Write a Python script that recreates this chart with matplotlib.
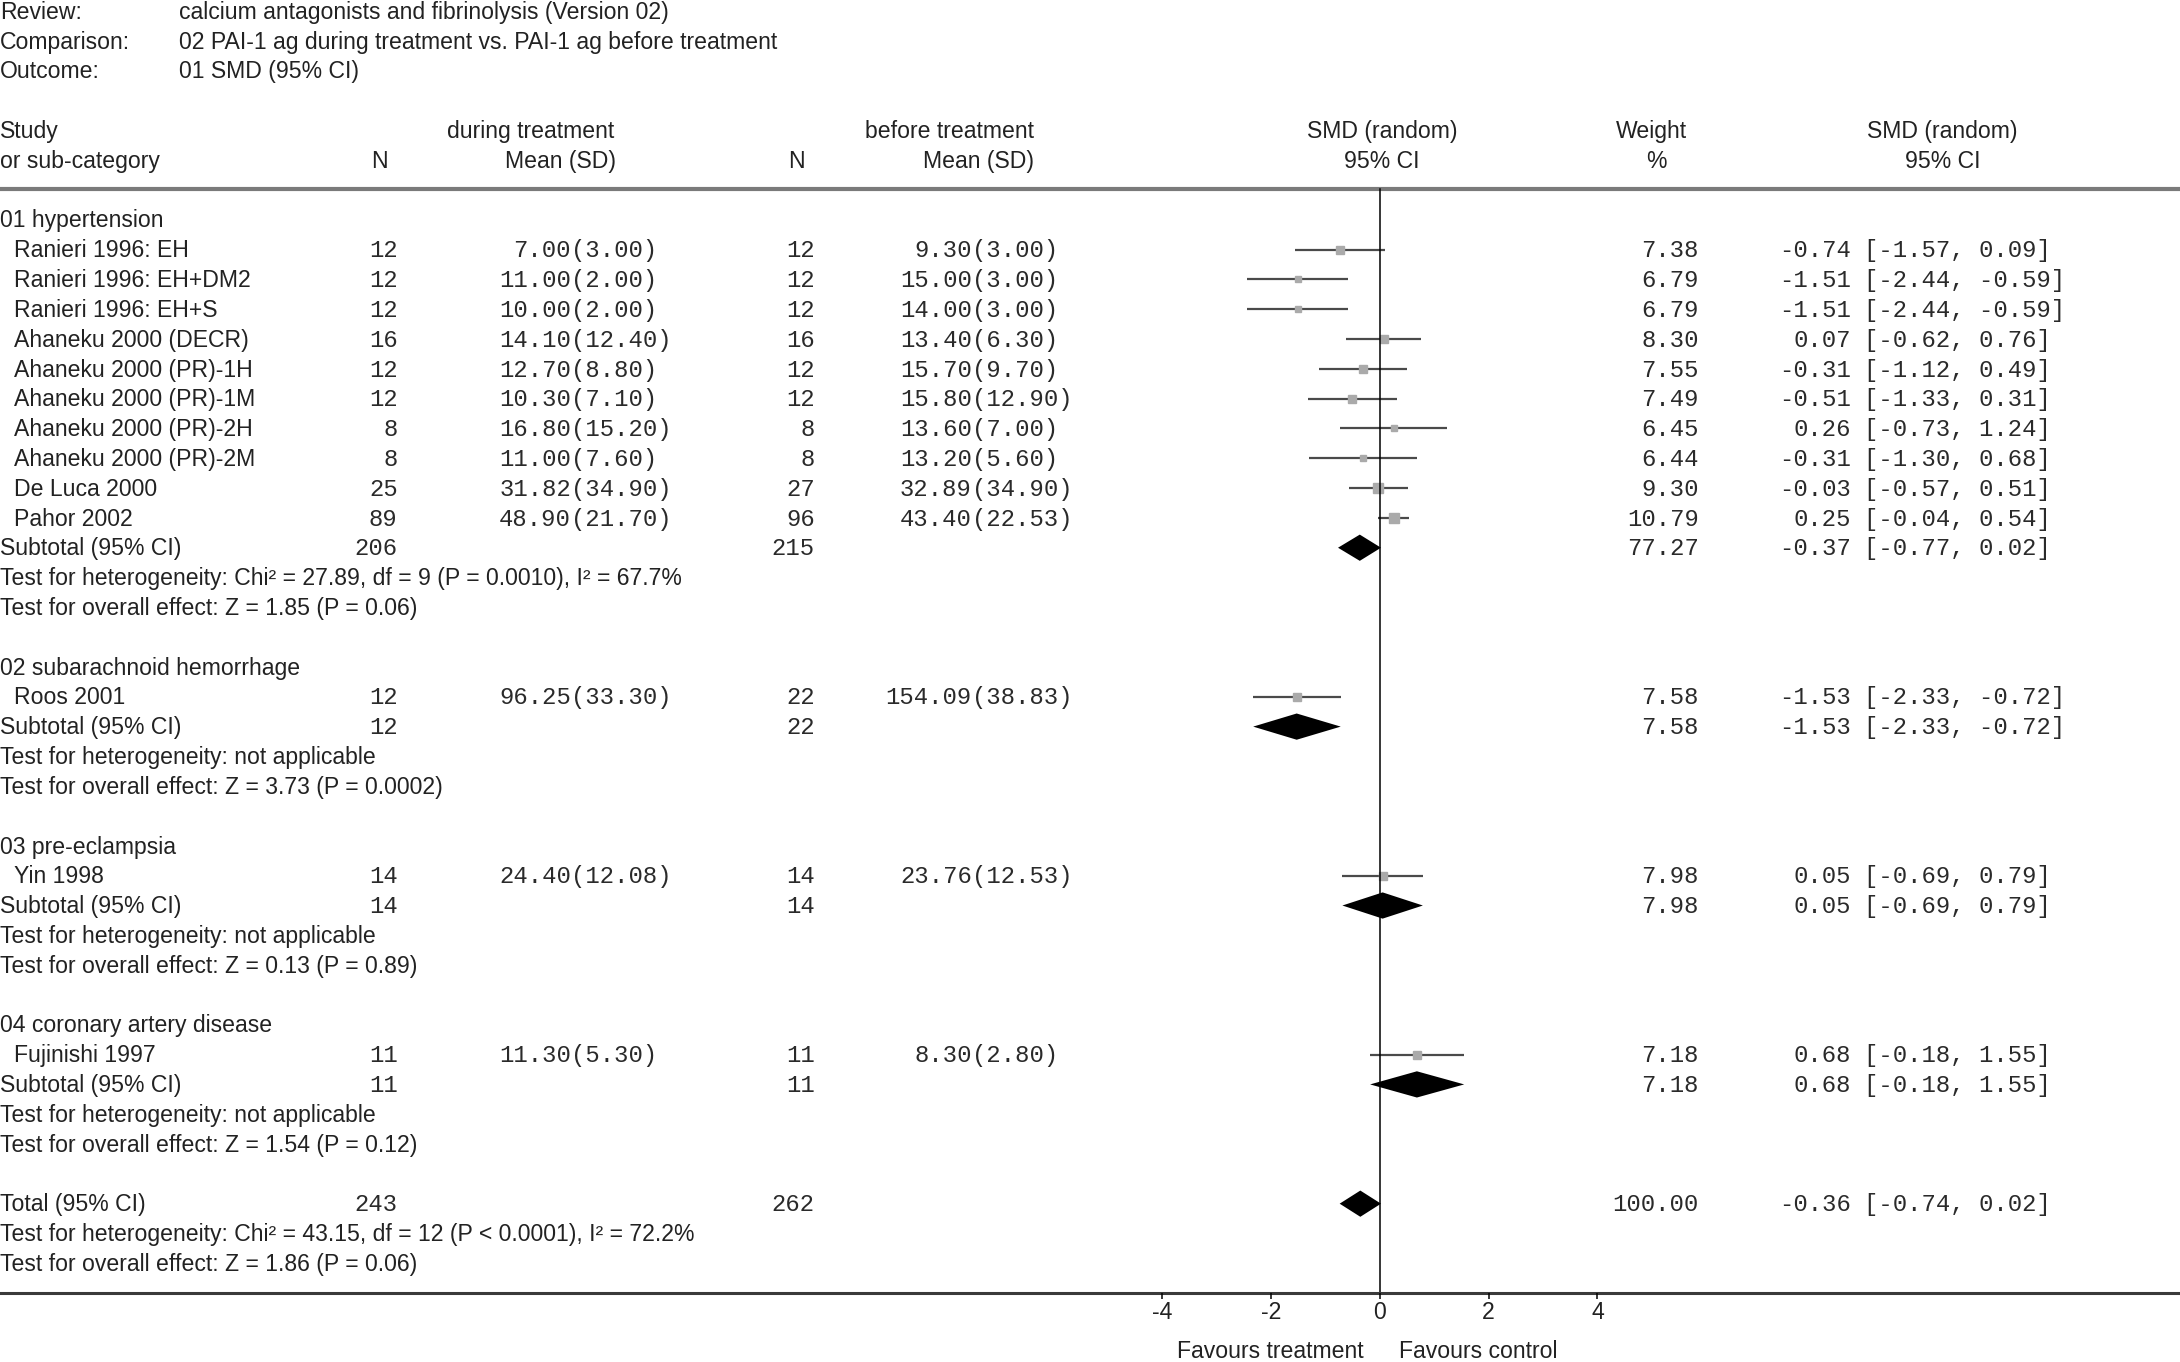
import matplotlib.pyplot as plt
import numpy as np

SANS = ['Liberation Sans', 'DejaVu Sans']
MONO = ['Liberation Mono', 'DejaVu Sans Mono']

review = "calcium antagonists and fibrinolysis (Version 02)"
comparison = "02 PAI-1 ag during treatment vs. PAI-1 ag before treatment"
outcome = "01 SMD (95% CI)"

groups = ["01 hypertension", "02 subarachnoid hemorrhage",
          "03 pre-eclampsia", "04 coronary artery disease"]
studies = ["Ranieri 1996: EH", "Ranieri 1996: EH+DM2", "Ranieri 1996: EH+S",
           "Ahaneku 2000 (DECR)", "Ahaneku 2000 (PR)-1H", "Ahaneku 2000 (PR)-1M",
           "Ahaneku 2000 (PR)-2H", "Ahaneku 2000 (PR)-2M", "De Luca 2000",
           "Pahor 2002", "Roos 2001", "Yin 1998", "Fujinishi 1997"]
study_group = [0, 0, 0, 0, 0, 0, 0, 0, 0, 0, 1, 2, 3]
n_during = [12, 12, 12, 16, 12, 12, 8, 8, 25, 89, 12, 14, 11]
mean_during = [7.00, 11.00, 10.00, 14.10, 12.70, 10.30, 16.80, 11.00, 31.82, 48.90, 96.25, 24.40, 11.30]
sd_during = [3.00, 2.00, 2.00, 12.40, 8.80, 7.10, 15.20, 7.60, 34.90, 21.70, 33.30, 12.08, 5.30]
n_before = [12, 12, 12, 16, 12, 12, 8, 8, 27, 96, 22, 14, 11]
mean_before = [9.30, 15.00, 14.00, 13.40, 15.70, 15.80, 13.60, 13.20, 32.89, 43.40, 154.09, 23.76, 8.30]
sd_before = [3.00, 3.00, 3.00, 6.30, 9.70, 12.90, 7.00, 5.60, 34.90, 22.53, 38.83, 12.53, 2.80]
weight = [7.38, 6.79, 6.79, 8.30, 7.55, 7.49, 6.45, 6.44, 9.30, 10.79, 7.58, 7.98, 7.18]
smd = [-0.74, -1.51, -1.51, 0.07, -0.31, -0.51, 0.26, -0.31, -0.03, 0.25, -1.53, 0.05, 0.68]
ci_low = [-1.57, -2.44, -2.44, -0.62, -1.12, -1.33, -0.73, -1.30, -0.57, -0.04, -2.33, -0.69, -0.18]
ci_high = [0.09, -0.59, -0.59, 0.76, 0.49, 0.31, 1.24, 0.68, 0.51, 0.54, -0.72, 0.79, 1.55]

sub_n_during = [206, 12, 14, 11]
sub_n_before = [215, 22, 14, 11]
sub_weight = [77.27, 7.58, 7.98, 7.18]
sub_smd = [-0.37, -1.53, 0.05, 0.68]
sub_low = [-0.77, -2.33, -0.69, -0.18]
sub_high = [0.02, -0.72, 0.79, 1.55]
sub_het = ["Test for heterogeneity: Chi² = 27.89, df = 9 (P = 0.0010), I² = 67.7%",
           "Test for heterogeneity: not applicable",
           "Test for heterogeneity: not applicable",
           "Test for heterogeneity: not applicable"]
sub_overall = ["Test for overall effect: Z = 1.85 (P = 0.06)",
               "Test for overall effect: Z = 3.73 (P = 0.0002)",
               "Test for overall effect: Z = 0.13 (P = 0.89)",
               "Test for overall effect: Z = 1.54 (P = 0.12)"]

total_n_during, total_n_before = 243, 262
total_weight, total_smd, total_low, total_high = 100.00, -0.36, -0.74, 0.02
total_het = "Test for heterogeneity: Chi² = 43.15, df = 12 (P < 0.0001), I² = 72.2%"
total_overall = "Test for overall effect: Z = 1.86 (P = 0.06)"

xticks = [-4, -2, 0, 2, 4]

fig = plt.figure(figsize=(21.8, 13.62), dpi=100)
ax = fig.add_axes([0, 0, 1, 1])
ax.set_xlim(-25.37, 14.71)
ax.set_ylim(38.31, -7.37)
ax.axis('off')
tr = ax.get_yaxis_transform()

FS = 16.6
MFS = 17.2


def sans(x, y, s, ha='left'):
    ax.text(x, y + 0.04, s, transform=tr, ha=ha, va='center', fontsize=FS, family=SANS, color='#222222')


def mono(x, y, s, ha='left'):
    ax.text(x, y + 0.04, s, transform=tr, ha=ha, va='center', fontsize=MFS, family=MONO, color='#2a2a2a')


def stat_cols(r, n1, n2, w, e, lo, hi):
    mono(0.1824, r, str(n1), ha='right')
    mono(0.3737, r, str(n2), ha='right')
    mono(0.7793, r, f"{w:.2f}", ha='right')
    mono(0.8489, r, f"{e:.2f}", ha='right')
    mono(0.8552, r, f"[{lo:.2f}, {hi:.2f}]")


def diamond(r, e, lo, hi):
    h = 0.44
    ax.fill([lo, e, hi, e], [r, r - h, r, r + h], color='black', lw=0)


# header block
for r, lab, val in [(-7, "Review:", review), (-6, "Comparison:", comparison), (-5, "Outcome:", outcome)]:
    sans(0.0, r, lab)
    sans(0.0823, r, val)
sans(0.0, -3, "Study")
sans(0.0, -2, "or sub-category")
sans(0.2436, -3, "during treatment", ha='center')
sans(0.1741, -2, "N", ha='center')
sans(0.2825, -2, "Mean (SD)", ha='right')
sans(0.4356, -3, "before treatment", ha='center')
sans(0.3654, -2, "N", ha='center')
sans(0.4745, -2, "Mean (SD)", ha='right')
sans(0.634, -3, "SMD (random)", ha='center')
sans(0.634, -2, "95% CI", ha='center')
sans(0.7577, -3, "Weight", ha='center')
sans(0.7596, -2, "%", ha='center')
sans(0.891, -3, "SMD (random)", ha='center')
sans(0.891, -2, "95% CI", ha='center')
ax.axhline(-1.03, color='#7a7a7a', lw=3)

row = 0
for g, gname in enumerate(groups):
    sans(0.0, row, gname)
    row += 1
    for i in [k for k, sg in enumerate(study_group) if sg == g]:
        sans(0.0064, row, studies[i])
        mono(0.1824, row, str(n_during[i]), ha='right')
        mono(0.2619, row, f"{mean_during[i]:.2f}", ha='right')
        mono(0.2619, row, f"({sd_during[i]:.2f})")
        mono(0.3737, row, str(n_before[i]), ha='right')
        mono(0.4458, row, f"{mean_before[i]:.2f}", ha='right')
        mono(0.4458, row, f"({sd_before[i]:.2f})")
        mono(0.7793, row, f"{weight[i]:.2f}", ha='right')
        mono(0.8489, row, f"{smd[i]:.2f}", ha='right')
        mono(0.8552, row, f"[{ci_low[i]:.2f}, {ci_high[i]:.2f}]")
        ax.plot([ci_low[i], ci_high[i]], [row, row], color='#4a4a4a', lw=1.6, solid_capstyle='butt')
        ax.plot(smd[i], row, 's', ms=weight[i] * 0.72, color='#aaaaaa', mec='#aaaaaa')
        row += 1
    sans(0.0, row, "Subtotal (95% CI)")
    stat_cols(row, sub_n_during[g], sub_n_before[g], sub_weight[g], sub_smd[g], sub_low[g], sub_high[g])
    diamond(row, sub_smd[g], sub_low[g], sub_high[g])
    row += 1
    sans(0.0, row, sub_het[g])
    row += 1
    sans(0.0, row, sub_overall[g])
    row += 2

sans(0.0, row, "Total (95% CI)")
stat_cols(row, total_n_during, total_n_before, total_weight, total_smd, total_low, total_high)
diamond(row, total_smd, total_low, total_high)
sans(0.0, row + 1, total_het)
sans(0.0, row + 2, total_overall)
axis_row = row + 3

# zero line and bottom axis
ax.plot([0, 0], [-1.03, axis_row], color='black', lw=1.1)
ax.axhline(axis_row, color='#3a3a3a', lw=2.2)
ax.vlines(xticks, axis_row, axis_row + 0.2, color='black', lw=1.1)
for t in xticks:
    ax.text(t, axis_row + 0.64, str(t), ha='center', va='center', fontsize=FS, family=SANS, color='#222222')
ax.text(-0.3, axis_row + 1.97, "Favours treatment", ha='right', va='center', fontsize=FS, family=SANS, color='#222222')
ax.text(0.35, axis_row + 1.97, "Favours control", ha='left', va='center', fontsize=FS, family=SANS, color='#222222')

fig.savefig('out.png', dpi=100, facecolor='white')
